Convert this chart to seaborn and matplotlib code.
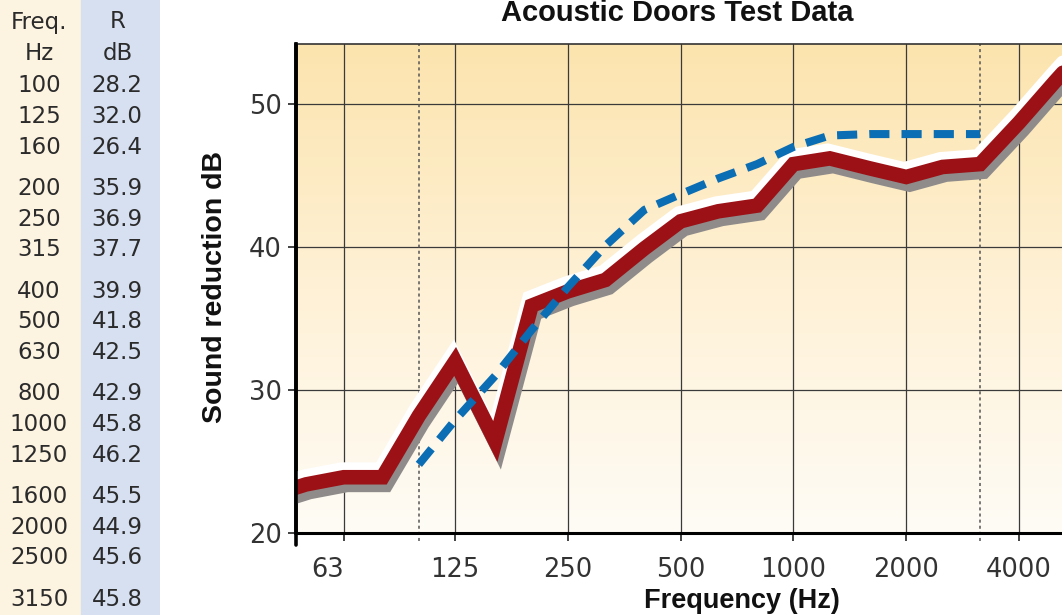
import numpy as np
import pandas as pd
import seaborn as sns
import matplotlib.pyplot as plt
import matplotlib.patheffects as pe
from matplotlib.colors import LinearSegmentedColormap
from matplotlib.ticker import NullLocator

# measured sound reduction, third octave bands (the table on the left)
freq_hz = [100, 125, 160, 200, 250, 315, 400, 500, 630, 800, 1000, 1250, 1600, 2000, 2500, 3150]
r_db = [28.2, 32.0, 26.4, 35.9, 36.9, 37.7, 39.9, 41.8, 42.5, 42.9, 45.8, 46.2, 45.5, 44.9, 45.6, 45.8]

# bands outside the table
low_freq_hz = [40, 50, 63, 80]
low_r_db = [22.6, 23.4, 23.9, 23.9]
high_freq_hz = [4000, 5000, 6300]
high_r_db = [48.7, 51.6, 54.5]

# shifted reference curve (blue dashes), 100 - 3150 Hz
ref_db = [24.8, 27.9, 31.0, 34.2, 37.2, 40.1, 42.6, 43.7, 44.8, 45.8, 47.0, 47.8, 47.9, 47.9, 47.9, 47.9]

tick_hz = [63, 125, 250, 500, 1000, 2000, 4000]
y_ticks = [20, 30, 40, 50]

curve = pd.DataFrame({"freq": low_freq_hz + freq_hz + high_freq_hz,
                      "r": low_r_db + r_db + high_r_db})
ref = pd.DataFrame({"freq": freq_hz, "r": ref_db})

sns.set_theme(style="white")
plt.rcParams["font.family"] = ["DejaVu Sans"]

W, H = 1062, 615
fig = plt.figure(figsize=(W / 100, H / 100), dpi=100)
ax = fig.add_axes([296 / W, 82 / H, 766 / W, 489 / H])

# background gradient
bg = LinearSegmentedColormap.from_list("bg", ["#FFFCF6", "#FEF1D6", "#FCE4AE"])
ax.imshow(np.linspace(0, 1, 256).reshape(-1, 1), cmap=bg, origin="lower", aspect="auto",
          extent=[0, 1, 0, 1], transform=ax.transAxes, zorder=0)

sns.lineplot(data=curve, x="freq", y="r", ax=ax, color="#9C1116", linewidth=10.5,
             solid_joinstyle="miter", zorder=5,
             path_effects=[pe.SimpleLineShadow(offset=(2.5, -5.5), shadow_color="#8E8B8A", alpha=1),
                           pe.SimpleLineShadow(offset=(-1.5, 5.5), shadow_color="white", alpha=1),
                           pe.Normal()])
sns.lineplot(data=ref, x="freq", y="r", ax=ax, color="#0B6DB4", linewidth=5.8,
             linestyle=(0, (2.5, 1.5)), dash_capstyle="butt", zorder=6)

ax.set_xscale("log")
ax.set_xlim(47, 5210)
ax.set_ylim(20, 54.2)
ax.set_xticks(tick_hz)
ax.set_xticklabels([str(t) for t in tick_hz])
ax.xaxis.set_minor_locator(NullLocator())
ax.set_yticks(y_ticks)
ax.grid(True, color="#3A3A3A", linewidth=0.9, zorder=1)
ax.set_axisbelow(True)

# dotted markers at the ends of the reference range
for f in [freq_hz[0], freq_hz[-1]]:
    ax.axvline(f, ymin=-0.017, ymax=1, color="#555555", lw=1.1, ls=(0, (2, 2)),
               clip_on=False, zorder=2)

ax.spines["right"].set_visible(False)
ax.spines["left"].set_color("black")
ax.spines["left"].set_linewidth(2.6)
ax.spines["bottom"].set_color("black")
ax.spines["bottom"].set_linewidth(2.2)
ax.spines["top"].set_color("#333333")
ax.spines["top"].set_linewidth(1.2)
ax.axvline(47, ymin=-0.025, ymax=1, color="black", lw=2.6, clip_on=False, zorder=7)

ax.tick_params(axis="both", which="major", bottom=True, left=True, direction="out",
               length=6, width=1.2, color="#222222", labelsize=18.5, labelcolor="#333333")
ax.tick_params(axis="x", pad=11)
ax.tick_params(axis="y", pad=4)
ax.get_xticklabels()[0].set_horizontalalignment("right")

ax.set_ylabel("Sound reduction dB", fontsize=20.5, fontweight="bold",
              family="Liberation Sans", color="#111111")
ax.yaxis.set_label_coords(-0.089, 0.503)
ax.set_xlabel("Frequency (Hz)", fontsize=19.5, fontweight="bold",
              family="Liberation Sans", color="#111111", va="top")
ax.xaxis.set_label_coords(0.582, -0.113)

fig.text(677 / W, 1 - 13 / H, "Acoustic Doors Test Data", ha="center", va="center",
         fontsize=21, fontweight="bold", family="Liberation Sans", color="#111111")

# data table on the left, pixel coordinates
tab = fig.add_axes([0, 0, 160 / W, 1])
tab.set_xlim(0, 160)
tab.set_ylim(H, 0)
tab.axis("off")
tab.axvspan(0, 81, color="#FDF3E1", zorder=0)
tab.axvspan(81, 160, color="#D6E0F1", zorder=0)
txt = dict(ha="center", va="center", fontsize=16.5, color="#2B2B2B")
tab.text(39, 22, "Freq.", **txt)
tab.text(39, 54, "Hz", **txt)
tab.text(118, 22, "R", **txt)
tab.text(118, 54, "dB", **txt)
for i, (f, r) in enumerate(zip(freq_hz, r_db)):
    yy = 86 + i * 30.7 + (i // 3) * 10.5
    tab.text(39, yy, str(f), **txt)
    tab.text(117, yy, f"{r:.1f}", **txt)

fig.savefig("out.png", dpi=100)
